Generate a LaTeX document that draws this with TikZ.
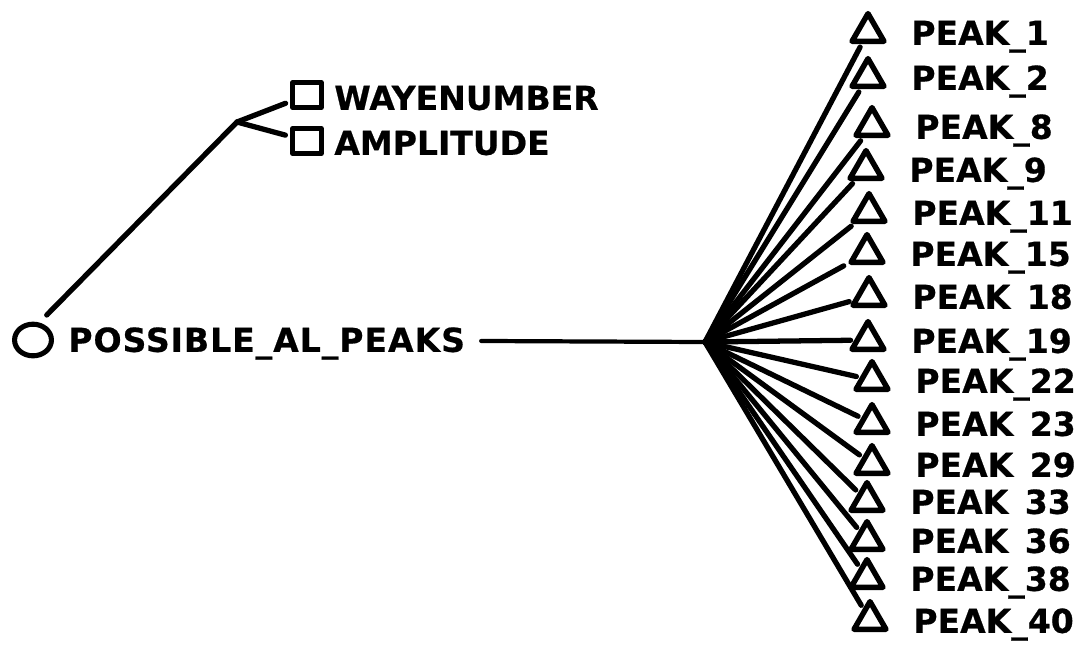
\documentclass[tikz,border=0pt]{standalone}
\usepackage{fontspec}
\setmainfont{DejaVu Sans}
\usetikzlibrary{shapes.geometric}

\begin{document}
\begin{tikzpicture}[
    x=0.02cm,
    y=-0.02cm,
    line cap=round,
    line join=round,
    every node/.style={font=\bfseries\fontsize{18.8}{20}\selectfont\addfontfeature{FakeBold=0.6}},
]
\definecolor{inkBlack}{HTML}{000000}

\tikzset{
    link/.style={draw=inkBlack,line width=3pt},
    stem/.style={draw=inkBlack,line width=2.4pt},
    rootmark/.style={draw=inkBlack,ellipse,line width=2.9pt,minimum width=21pt,minimum height=18pt,inner sep=0pt},
    attrmark/.style={draw=inkBlack,rectangle,line width=2.8pt,minimum width=16pt,minimum height=14.5pt,inner sep=0pt},
    peakmark/.style={draw=inkBlack,regular polygon,regular polygon sides=3,line width=3.1pt,minimum size=21pt,inner sep=0pt,anchor=south},
    tag/.style={text=inkBlack,anchor=west,text height=13.5pt,text depth=0pt,inner sep=0pt},
}

\useasboundingbox (0,0) rectangle (1075,647);

% root object
\node[rootmark] (root) at (33,340) {};
\node[tag] (rootlabel) at (68,340) {\addfontfeature{LetterSpace=3}POSSIBLE\_AL\_PEAKS};

% attributes
\coordinate (branch) at (237,122);
\node[attrmark] (wave) at (307,95) {};
\node[tag] (wavelabel) at (334,98) {WAYENUMBER};
\node[attrmark] (ampl) at (307,141) {};
\node[tag] (ampllabel) at (334,143) {AMPLITUDE};

\draw[link,shorten <=6pt] (root.70) -- (branch);
\draw[link,shorten >=3pt] (branch) -- (wave);
\draw[link,shorten >=3pt] (branch) -- (ampl);

% peaks
\coordinate (hub) at (705,342);
\draw[stem,shorten <=9pt] (rootlabel) -- (hub);

\foreach \i/\x/\y/\name in {
    1/868/33/PEAK\_1,
    2/868/78/PEAK\_2,
    3/872/127/PEAK\_8,
    4/866/170/PEAK\_9,
    5/869/213/PEAK\_11,
    6/867/254/PEAK\_15,
    7/869/297/PEAK\hphantom{\_}18,
    8/868/341/PEAK\_19,
    9/872/381/PEAK\_22,
    10/872/424/PEAK\hphantom{\_}23,
    11/872/465/PEAK\hphantom{\_}29,
    12/867/502/PEAK\hphantom{\_}33,
    13/867/541/PEAK\hphantom{\_}36,
    14/867/579/PEAK\_38,
    15/870/621/PEAK\_40} {
    \node[peakmark] (t\i) at (\x,\y+11) {};
    \node[tag] (p\i) at (\x+43,\y) {\name};
    \draw[link,shorten >=2pt] (hub) -- (t\i);
}
\end{tikzpicture}
\end{document}
